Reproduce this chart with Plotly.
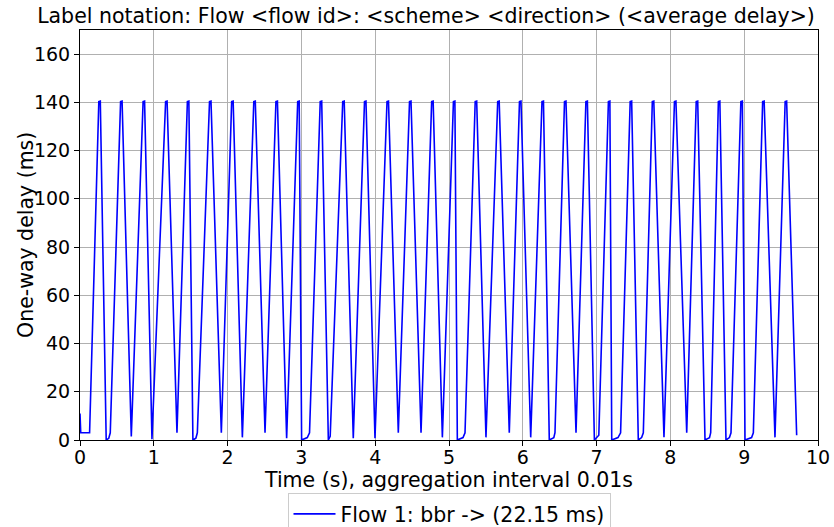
import plotly.graph_objects as go

# Vertex data (time in s, one-way delay in ms)
time_s = [
    0.00, 0.01, 0.13,
    0.255, 0.275, 0.355, 0.39, 0.41,
    0.55, 0.57, 0.695,
    0.855, 0.875, 0.975,
    1.16, 1.18, 1.314,
    1.455, 1.475, 1.53, 1.57, 1.59,
    1.755, 1.775, 1.915,
    2.055, 2.075, 2.20,
    2.355, 2.375, 2.507,
    2.655, 2.675, 2.80,
    2.95, 2.97, 3.003, 3.08, 3.11,
    3.255, 3.275, 3.365, 3.39,
    3.56, 3.58, 3.703,
    3.855, 3.875, 3.997,
    4.16, 4.18, 4.313,
    4.465, 4.485, 4.621,
    4.765, 4.785, 4.91,
    5.06, 5.08, 5.113, 5.19, 5.217,
    5.355, 5.375, 5.501,
    5.66, 5.68, 5.817,
    5.955, 5.975, 6.107,
    6.26, 6.28, 6.359, 6.42, 6.436,
    6.565, 6.585, 6.721,
    6.855, 6.875, 6.97, 7.03,
    7.16, 7.18, 7.205, 7.29, 7.325,
    7.455, 7.475, 7.565, 7.61, 7.633,
    7.755, 7.775, 7.913,
    8.055, 8.075, 8.221,
    8.35, 8.37, 8.469, 8.53, 8.546,
    8.65, 8.67, 8.753, 8.80, 8.821,
    8.955, 8.975, 9.011, 9.10, 9.124,
    9.25, 9.27, 9.417,
    9.555, 9.575, 9.711,
]
delay_ms = [
    11.0, 3.0, 3.0,
    140.3, 140.5, 0.0, 0.7, 3.0,
    140.3, 140.5, 1.5,
    140.3, 140.5, 0.3,
    140.3, 140.5, 3.0,
    140.3, 140.5, 0.0, 0.7, 3.0,
    140.3, 140.5, 3.0,
    140.3, 140.5, 1.1,
    140.3, 140.5, 3.0,
    140.3, 140.5, 0.7,
    140.3, 140.5, 0.0, 1.0, 3.0,
    140.3, 140.5, 0.0, 1.5,
    140.3, 140.5, 0.7,
    140.3, 140.5, 0.7,
    140.3, 140.5, 3.0,
    140.3, 140.5, 3.0,
    140.3, 140.5, 1.1,
    140.3, 140.5, 0.0, 1.0, 3.0,
    140.3, 140.5, 1.1,
    140.3, 140.5, 3.0,
    140.3, 140.5, 1.1,
    140.3, 140.5, 0.0, 1.0, 3.0,
    140.3, 140.5, 3.0,
    140.3, 140.5, 0.0, 2.0,
    140.3, 140.5, 0.0, 1.0, 3.0,
    140.3, 140.5, 0.0, 1.0, 3.0,
    140.3, 140.5, 1.1,
    140.3, 140.5, 3.0,
    140.3, 140.5, 0.0, 1.0, 3.0,
    140.3, 140.5, 0.0, 1.0, 3.0,
    140.3, 140.5, 0.0, 1.0, 3.0,
    140.3, 140.5, 1.1,
    140.3, 140.5, 2.0,
]

x_ticks = [0, 1, 2, 3, 4, 5, 6, 7, 8, 9, 10]
y_ticks = [0, 20, 40, 60, 80, 100, 120, 140, 160]

series_name = "Flow 1: bbr -&gt; (22.15 ms)"
title_text = "Label notation: Flow &lt;flow id&gt;: &lt;scheme&gt; &lt;direction&gt; (&lt;average delay&gt;)"
x_title = "Time (s), aggregation interval 0.01s"
y_title = "One-way delay (ms)"

FONT = "DejaVu Sans"
W, H = 834, 527

fig = go.Figure()
fig.add_trace(go.Scatter(
    x=time_s, y=delay_ms, mode="lines", name=series_name,
    line=dict(color="#0000ff", width=1.6),
    showlegend=True,
))

axis_common = dict(
    showgrid=True, gridcolor="#b0b0b0", gridwidth=1,
    showline=True, linecolor="black", linewidth=1, mirror=True,
    ticks="outside", ticklen=5, tickcolor="black", tickwidth=1,
    zeroline=False, automargin=False,
    tickfont=dict(family=FONT, size=19, color="black"),
)

fig.update_layout(
    width=W, height=H,
    margin=dict(l=80, r=16, t=30, b=87),
    paper_bgcolor="white", plot_bgcolor="white",
    font=dict(family=FONT, color="black"),
    title=dict(text=title_text, x=426 / W, xanchor="center",
               y=1 - 16 / H, yanchor="middle",
               font=dict(family=FONT, size=20.5, color="black")),
    xaxis=dict(range=[0, 10], tickvals=x_ticks, ticklabelstandoff=-5,
               title=dict(text=x_title, font=dict(family=FONT, size=20.5), standoff=3),
               **axis_common),
    yaxis=dict(range=[0, 170], tickvals=y_ticks, **axis_common),
    legend=dict(orientation="h", x=0.5, xanchor="center",
                yref="container", y=1 - 493 / H, yanchor="top",
                itemwidth=42,
                bordercolor="#cccccc", borderwidth=1, bgcolor="white",
                font=dict(family=FONT, size=20.5, color="black")),
    annotations=[dict(text=y_title, xref="paper", yref="paper", x=0, y=0.5,
                      xanchor="center", yanchor="middle", xshift=-54,
                      textangle=-90, showarrow=False,
                      font=dict(family=FONT, size=20.5, color="black"))],
)

fig.write_html("out.html", config={"displayModeBar": False},
               post_script="document.body.style.margin='0px';")
